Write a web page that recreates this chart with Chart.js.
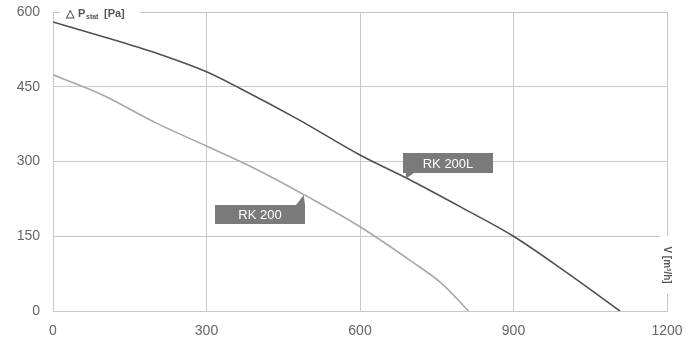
<!DOCTYPE html>
<html>
<head>
<meta charset="utf-8">
<script src="https://cdn.jsdelivr.net/npm/chart.js@4.4.0/dist/chart.umd.min.js"></script>
<style>
  html, body { margin: 0; padding: 0; background: #fff; }
  #wrap { width: 688px; height: 349px; }
</style>
</head>
<body>
<div id="wrap"><canvas id="chart" width="688" height="349"></canvas></div>
<script>
// airflow V [m3/h] and static pressure [Pa]
const rk200lFlow = [0, 100, 200, 300, 365, 480, 600, 700, 800, 900, 1000, 1108];
const rk200lPress = [580, 550, 518, 480, 447, 384, 313, 262, 207, 150, 80, 0];
const rk200Flow = [0, 100, 200, 300, 400, 500, 600, 700, 760, 812];
const rk200Press = [474, 432, 378, 331, 283, 228, 169, 100, 55, 0];
const xTicks = [0, 300, 600, 900, 1200];
const yTicks = [0, 150, 300, 450, 600];

const toPoints = (xs, ys) => xs.map((x, i) => ({ x: x, y: ys[i] }));

// callout boxes, anchored at a point on the curve
const callouts = [
  { text: 'RK 200L', at: { x: 690, y: 266 }, box: [403, 153, 90, 20], tail: 'left' },
  { text: 'RK 200', at: { x: 490, y: 233 }, box: [215, 205, 90, 19], tail: 'right' }
];

const extras = {
  id: 'extras',
  afterDatasetsDraw(chart) {
    const ctx = chart.ctx;
    const xs = chart.scales.x, ys = chart.scales.y;
    ctx.save();

    // y axis title over the top grid line
    ctx.fillStyle = '#fff';
    ctx.fillRect(60, 4, 80, 16);
    ctx.fillStyle = '#555';
    ctx.font = 'bold 11px "Liberation Sans", Arial, sans-serif';
    ctx.textBaseline = 'alphabetic';
    ctx.fillText('\u25b3', 66, 17);
    ctx.fillText('P', 78, 17);
    ctx.font = 'bold 7px "Liberation Sans", Arial, sans-serif';
    ctx.fillText('stat', 86, 19);
    ctx.font = 'bold 11px "Liberation Sans", Arial, sans-serif';
    ctx.fillText('[Pa]', 104, 17);

    // x axis title, rotated, on the right border
    ctx.fillStyle = '#fff';
    ctx.fillRect(660, 236, 14, 58);
    ctx.translate(667, 265);
    ctx.rotate(Math.PI / 2);
    ctx.fillStyle = '#555';
    ctx.textAlign = 'center';
    ctx.textBaseline = 'middle';
    ctx.font = 'bold 10px "Liberation Sans", Arial, sans-serif';
    ctx.fillText('V [m\u00b3/h]', 0, 0);
    ctx.setTransform(1, 0, 0, 1, 0, 0);

    // callouts
    callouts.forEach(c => {
      const [bx, by, bw, bh] = c.box;
      const px = xs.getPixelForValue(c.at.x);
      const py = ys.getPixelForValue(c.at.y);
      ctx.fillStyle = '#7a7a7a';
      ctx.fillRect(bx, by, bw, bh);
      ctx.beginPath();
      if (c.tail === 'left') {
        ctx.moveTo(bx + 3, by + bh);
        ctx.lineTo(bx + 11, by + bh);
        ctx.lineTo(px, py);
      } else {
        ctx.moveTo(bx + bw - 9, by);
        ctx.lineTo(bx + bw, by);
        ctx.lineTo(px, py);
      }
      ctx.closePath();
      ctx.fill();
      ctx.fillStyle = '#fff';
      ctx.font = '13px "Liberation Sans", Arial, sans-serif';
      ctx.textAlign = 'center';
      ctx.textBaseline = 'middle';
      ctx.fillText(c.text, bx + bw / 2, by + bh / 2 + 1);
    });
    ctx.restore();
  }
};

new Chart(document.getElementById('chart'), {
  type: 'scatter',
  data: {
    datasets: [
      {
        label: 'RK 200L',
        data: toPoints(rk200lFlow, rk200lPress),
        showLine: true,
        borderColor: '#505050',
        borderWidth: 1.6,
        pointRadius: 0,
        cubicInterpolationMode: 'monotone'
      },
      {
        label: 'RK 200',
        data: toPoints(rk200Flow, rk200Press),
        showLine: true,
        borderColor: '#a8a8a8',
        borderWidth: 1.6,
        pointRadius: 0,
        cubicInterpolationMode: 'monotone'
      }
    ]
  },
  options: {
    responsive: false,
    animation: false,
    layout: { padding: { top: 12, right: 21, left: 0, bottom: 0 } },
    plugins: {
      legend: { display: false },
      tooltip: { enabled: false }
    },
    scales: {
      x: {
        type: 'linear',
        min: 0,
        max: 1200,
        afterBuildTicks: s => { s.ticks = xTicks.map(v => ({ value: v })); },
        afterFit: s => { s.height = 38; s.paddingLeft = 0; s.paddingRight = 0; },
        grid: { color: '#c8c8c8', lineWidth: 1, drawTicks: false },
        border: { color: '#c8c8c8' },
        ticks: {
          color: '#666',
          padding: 12,
          maxRotation: 0,
          callback: v => String(v),
          font: { family: '"Liberation Sans", Arial, sans-serif', size: 14 }
        }
      },
      y: {
        type: 'linear',
        min: 0,
        max: 600,
        afterBuildTicks: s => { s.ticks = yTicks.map(v => ({ value: v })); },
        afterFit: s => { s.width = 53; s.paddingTop = 0; s.paddingBottom = 0; },
        grid: { color: '#c8c8c8', lineWidth: 1, drawTicks: false },
        border: { color: '#c8c8c8' },
        ticks: {
          color: '#666',
          padding: 13,
          callback: v => String(v),
          font: { family: '"Liberation Sans", Arial, sans-serif', size: 14 }
        }
      }
    }
  },
  plugins: [extras]
});
</script>
</body>
</html>
